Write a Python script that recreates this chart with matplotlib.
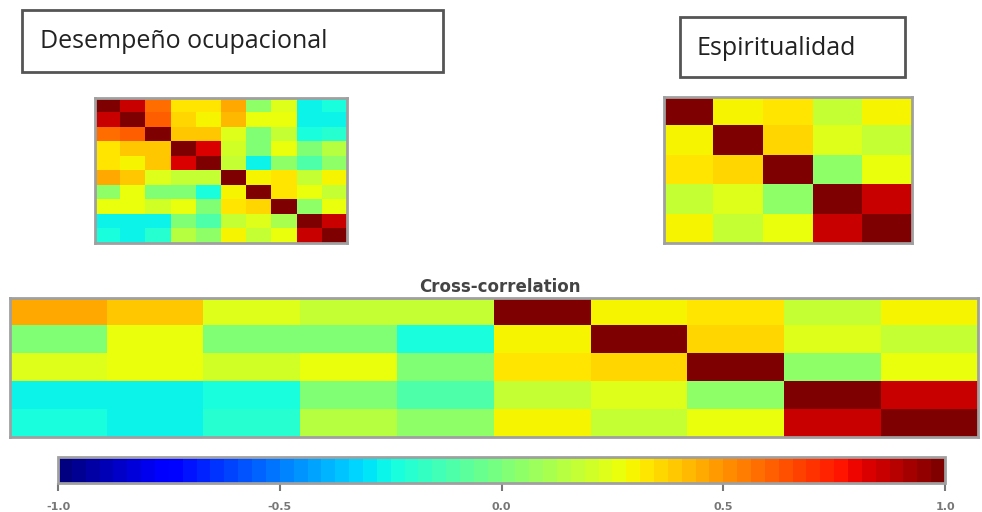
import numpy as np
import matplotlib
matplotlib.use("Agg")
import matplotlib.pyplot as plt
from matplotlib.patches import Rectangle

# === Données (corrélations) ===
desempeno = [
    [1.00, 0.85, 0.57, 0.34, 0.34, 0.45, 0.05, 0.22, -0.28, -0.25],
    [0.85, 1.00, 0.62, 0.36, 0.30, 0.42, 0.25, 0.25, -0.28, -0.28],
    [0.57, 0.62, 1.00, 0.40, 0.40, 0.22, 0.02, 0.18, -0.25, -0.20],
    [0.32, 0.38, 0.40, 1.00, 0.82, 0.20, 0.02, 0.27, 0.02, 0.13],
    [0.32, 0.30, 0.40, 0.82, 1.00, 0.18, -0.28, 0.05, -0.10, 0.05],
    [0.44, 0.40, 0.24, 0.16, 0.16, 1.00, 0.30, 0.34, 0.18, 0.30],
    [0.05, 0.25, 0.02, 0.02, -0.25, 0.30, 1.00, 0.34, 0.25, 0.16],
    [0.25, 0.25, 0.20, 0.27, 0.02, 0.32, 0.36, 1.00, 0.05, 0.27],
    [-0.28, -0.28, -0.27, 0.02, -0.10, 0.18, 0.24, 0.10, 1.00, 0.85],
    [-0.25, -0.28, -0.20, 0.13, 0.05, 0.30, 0.16, 0.27, 0.85, 1.00],
]

espiritualidad = [
    [1.00, 0.30, 0.32, 0.16, 0.30],
    [0.30, 1.00, 0.36, 0.24, 0.16],
    [0.32, 0.36, 1.00, 0.05, 0.27],
    [0.16, 0.24, 0.05, 1.00, 0.85],
    [0.30, 0.16, 0.27, 0.85, 1.00],
]

# partie gauche de la matrice croisée (5 x 5)
cross_left = [
    [0.44, 0.38, 0.22, 0.16, 0.16],
    [0.03, 0.27, 0.02, 0.02, -0.25],
    [0.24, 0.27, 0.20, 0.27, 0.03],
    [-0.28, -0.28, -0.25, 0.02, -0.10],
    [-0.25, -0.28, -0.20, 0.13, 0.05],
]

cbar_ticks = [-1.0, -0.5, 0.0, 0.5, 1.0]

cross = np.hstack([np.array(cross_left), np.array(espiritualidad)])

cmap = plt.get_cmap("jet", 64)
fig = plt.figure(figsize=(9.82, 5.12), dpi=100)


def heat(rect, data):
    ax = fig.add_axes(rect)
    im = ax.imshow(data, cmap=cmap, vmin=-1, vmax=1, aspect="auto", interpolation="nearest")
    ax.set_xticks([])
    ax.set_yticks([])
    for s in ax.spines.values():
        s.set_color("#a0a0a0")
        s.set_linewidth(2)
    return im


heat([0.0967, 0.5254, 0.2566, 0.2832], desempeno)
heat([0.6762, 0.5254, 0.2525, 0.2852], espiritualidad)
im = heat([0.0102, 0.1465, 0.9857, 0.2715], cross)

fig.text(0.509, 0.4395, "Cross-correlation", ha="center", va="center",
         fontsize=12, fontweight="bold", color="#444444")

# === Cadres des titres ===
fig.add_artist(Rectangle((0.0224, 0.8594), 0.4287, 0.1211, transform=fig.transFigure,
                         facecolor="white", edgecolor="#555555", linewidth=2))
fig.text(0.041, 0.918, "Desempeño ocupacional", ha="left", va="center",
         fontsize=18, family="Open Sans", color="#222222")
fig.add_artist(Rectangle((0.6925, 0.8496), 0.2291, 0.1172, transform=fig.transFigure,
                         facecolor="white", edgecolor="#555555", linewidth=2))
fig.text(0.709, 0.906, "Espiritualidad", ha="left", va="center",
         fontsize=18, family="Open Sans", color="#222222")

# === Barre de couleurs ===
cax = fig.add_axes([0.0591, 0.0566, 0.9033, 0.0508])
cb = fig.colorbar(im, cax=cax, orientation="horizontal", ticks=cbar_ticks)
cb.outline.set_edgecolor("#a0a0a0")
cb.outline.set_linewidth(2)
cax.tick_params(labelsize=8, colors="#777777", length=6, width=1.5, pad=8)
cax.set_xticklabels([f"{t:.1f}" for t in cbar_ticks], fontweight="bold")

fig.savefig("out.png", dpi=100)
